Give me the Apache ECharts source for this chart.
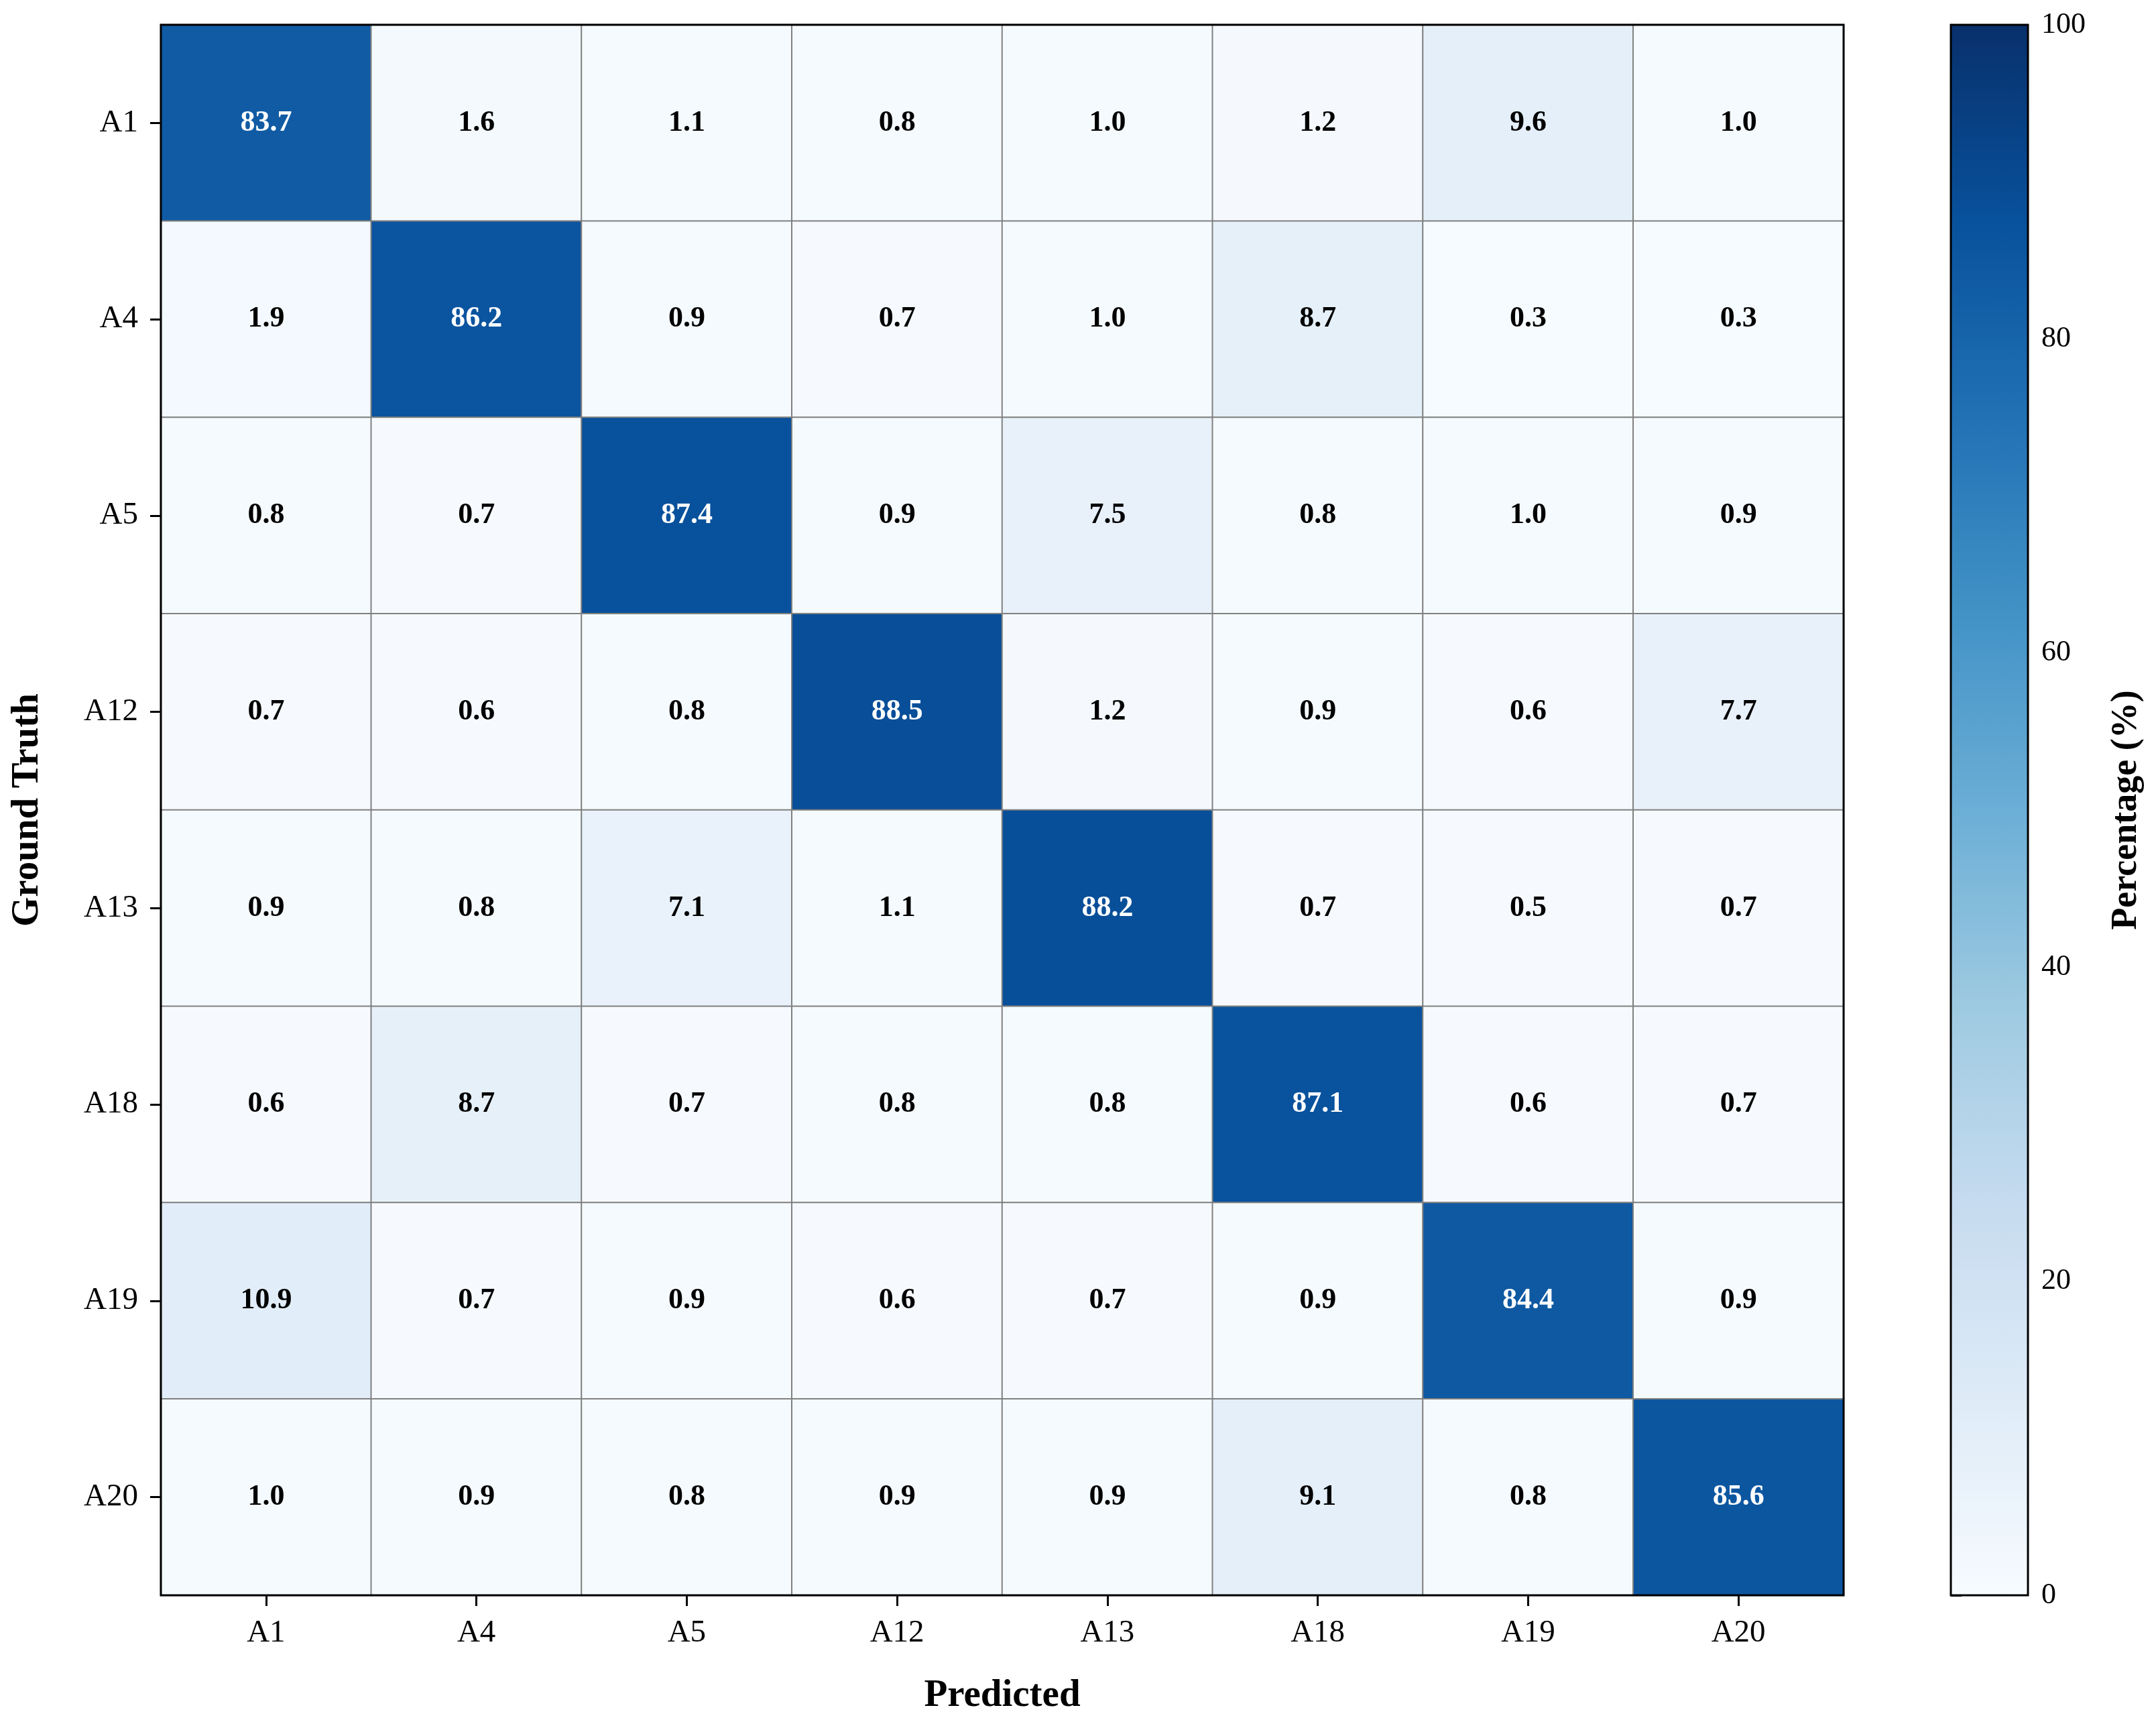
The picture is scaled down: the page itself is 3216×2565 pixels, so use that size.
<!DOCTYPE html>
<html>
<head>
<meta charset="utf-8">
<script src="https://cdn.jsdelivr.net/npm/echarts@6/dist/echarts.min.js"></script>
<style>
html,body{margin:0;padding:0;background:#fff;}
#chart{width:3216px;height:2565px;}
</style>
</head>
<body>
<div id="chart"></div>
<script>
// Categories (Predicted columns / Ground Truth rows)
const categories = ['A1','A4','A5','A12','A13','A18','A19','A20'];

// Row values (percentage), one array per ground-truth class
const rowA1  = [83.7, 1.6, 1.1, 0.8, 1.0, 1.2, 9.6, 1.0];
const rowA4  = [1.9, 86.2, 0.9, 0.7, 1.0, 8.7, 0.3, 0.3];
const rowA5  = [0.8, 0.7, 87.4, 0.9, 7.5, 0.8, 1.0, 0.9];
const rowA12 = [0.7, 0.6, 0.8, 88.5, 1.2, 0.9, 0.6, 7.7];
const rowA13 = [0.9, 0.8, 7.1, 1.1, 88.2, 0.7, 0.5, 0.7];
const rowA18 = [0.6, 8.7, 0.7, 0.8, 0.8, 87.1, 0.6, 0.7];
const rowA19 = [10.9, 0.7, 0.9, 0.6, 0.7, 0.9, 84.4, 0.9];
const rowA20 = [1.0, 0.9, 0.8, 0.9, 0.9, 9.1, 0.8, 85.6];
const rows = [rowA1, rowA4, rowA5, rowA12, rowA13, rowA18, rowA19, rowA20];

// Colorbar range / ticks
const cbMin = 0, cbMax = 100, cbInterval = 20;

// matplotlib "Blues" colormap stops
const blues = ['#f7fbff','#deebf7','#c6dbef','#9ecae1','#6baed6','#4292c6','#2171b5','#08519c','#08306b'];

const FONT = '"Liberation Serif", "Times New Roman", serif';

const heatData = [];
rows.forEach((r, yi) => {
  r.forEach((v, xi) => {
    heatData.push({
      value: [xi, yi, v],
      label: { color: v > 50 ? '#ffffff' : '#000000' }
    });
  });
});

const gradStops = blues.map((c, i) => ({ offset: 1 - i / (blues.length - 1), color: c }));

const chart = echarts.init(document.getElementById('chart'), null, { renderer: 'canvas' });
chart.setOption({
  animation: false,
  backgroundColor: '#ffffff',
  textStyle: { fontFamily: FONT },
  grid: [
    { left: 240, right: 466, top: 37, bottom: 186, show: true, z: 5,
      backgroundColor: 'transparent', borderColor: '#000', borderWidth: 3 },
    { left: 2910, right: 191, top: 37, bottom: 186, show: true, z: 5,
      backgroundColor: { type: 'linear', x: 0, y: 0, x2: 0, y2: 1, colorStops: gradStops },
      borderColor: '#000', borderWidth: 3 }
  ],
  visualMap: {
    show: false, type: 'continuous', min: cbMin, max: cbMax, seriesIndex: 0,
    inRange: { color: blues }
  },
  xAxis: [
    {
      type: 'category', data: categories, gridIndex: 0,
      name: 'Predicted', nameLocation: 'middle', nameGap: 122,
      nameTextStyle: { fontFamily: FONT, fontWeight: 'bold', fontSize: 57, color: '#000' },
      axisLine: { show: false },
      axisTick: { show: true, alignWithLabel: true, length: 16, lineStyle: { color: '#000', width: 3 } },
      axisLabel: { fontFamily: FONT, fontSize: 47, color: '#000', margin: 33 },
      splitLine: { show: false }
    },
    { type: 'value', gridIndex: 1, show: false, min: 0, max: 1 }
  ],
  yAxis: [
    {
      type: 'category', data: categories, gridIndex: 0, inverse: true,
      name: 'Ground Truth', nameLocation: 'middle', nameGap: 170, nameRotate: 90,
      nameTextStyle: { fontFamily: FONT, fontWeight: 'bold', fontSize: 57, color: '#000' },
      axisLine: { show: false },
      axisTick: { show: true, alignWithLabel: true, length: 16, lineStyle: { color: '#000', width: 3 } },
      axisLabel: { fontFamily: FONT, fontSize: 47, color: '#000', margin: 34 },
      splitLine: { show: false }
    },
    {
      type: 'value', gridIndex: 1, position: 'right', min: cbMin, max: cbMax, interval: cbInterval,
      name: 'Percentage (%)', nameLocation: 'middle', nameGap: 120, nameRotate: 90,
      nameTextStyle: { fontFamily: FONT, fontWeight: 'bold', fontSize: 54, color: '#000' },
      axisLine: { show: false },
      axisTick: { show: true, length: 16, lineStyle: { color: '#000', width: 3 } },
      axisLabel: { fontFamily: FONT, fontSize: 44, color: '#000', margin: 20 },
      splitLine: { show: false }
    }
  ],
  series: [{
    type: 'heatmap',
    xAxisIndex: 0, yAxisIndex: 0,
    data: heatData,
    itemStyle: { borderColor: '#808080', borderWidth: 2 },
    label: {
      show: true, fontFamily: FONT, fontWeight: 'bold', fontSize: 44,
      formatter: p => p.value[2].toFixed(1)
    },
    emphasis: { disabled: true }
  }]
});
</script>
</body>
</html>
